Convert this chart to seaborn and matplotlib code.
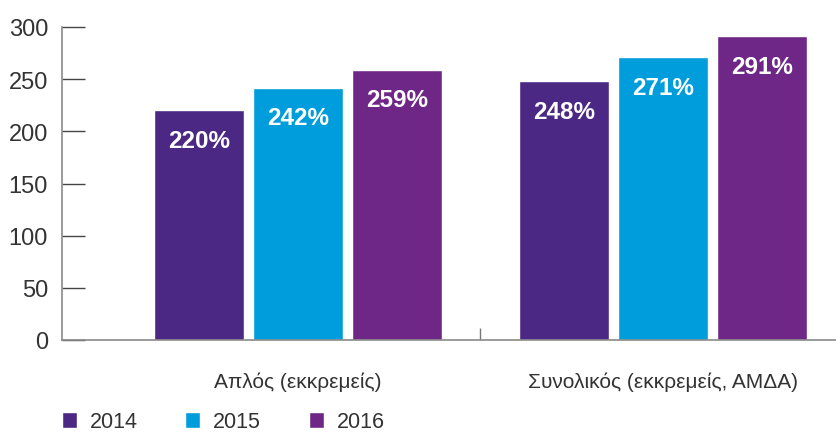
import matplotlib
matplotlib.use("Agg")
import matplotlib.pyplot as plt
import seaborn as sns
import pandas as pd

categories = ["Απλός (εκκρεμείς)", "Συνολικός (εκκρεμείς, ΑΜΔΑ)"]
years = ["2014", "2015", "2016"]
values_2014 = [220, 248]
values_2015 = [242, 271]
values_2016 = [259, 291]
colors = ["#4b2884", "#009ddc", "#6e2786"]
yticks = [0, 50, 100, 150, 200, 250, 300]

rows = []
for y, vals in zip(years, [values_2014, values_2015, values_2016]):
    for c, v in zip(categories, vals):
        rows.append({"cat": c, "year": y, "val": v})
df = pd.DataFrame(rows)

sns.set_theme(style="white")
plt.rcParams["font.family"] = ["Liberation Sans", "DejaVu Sans"]

fig = plt.figure(figsize=(8.37, 4.35), dpi=100)
ax = fig.add_axes([62/837, 1-341/435, 1-62/837, (341-28)/435])

sns.barplot(data=df, x="cat", y="val", hue="year", palette=colors,
            width=0.8137, gap=0.091, saturation=1, ax=ax, legend=True)

for cont in ax.containers:
    ax.bar_label(cont, labels=[f"{int(v)}%" for v in cont.datavalues],
                 padding=-30, color="white", fontsize=17.5, fontweight="bold")

ax.set_ylim(0, 300)
ax.set_xlim((62-298)/365, (837-298)/365)
ax.set_yticks(yticks)
ax.set_xlabel("")
ax.set_ylabel("")
for s in ["top", "right"]:
    ax.spines[s].set_visible(False)
for s in ["left", "bottom"]:
    ax.spines[s].set_color("#8a8a8a")
    ax.spines[s].set_linewidth(1.2)
ax.tick_params(axis="y", direction="in", length=16.5, width=1, color="#444444",
               labelsize=17, labelcolor="#333333", pad=10, left=True)
ax.tick_params(axis="x", length=0, labelsize=15, labelcolor="#333333", pad=23)
ax.set_xticks([0.5], minor=True)
ax.tick_params(axis="x", which="minor", direction="in", length=9, width=1,
               color="#777777", bottom=True)

handles, labels = ax.get_legend_handles_labels()
ax.legend(handles, labels, loc="center left", bbox_to_anchor=(62/837, 1-423/435),
          bbox_transform=fig.transFigure, ncol=3, frameon=False, fontsize=15.5,
          handlelength=0.7, handleheight=0.7, handletextpad=0.6,
          columnspacing=2.2, borderaxespad=0, borderpad=0, labelcolor="#333333")

fig.savefig("out.png", dpi=100)
